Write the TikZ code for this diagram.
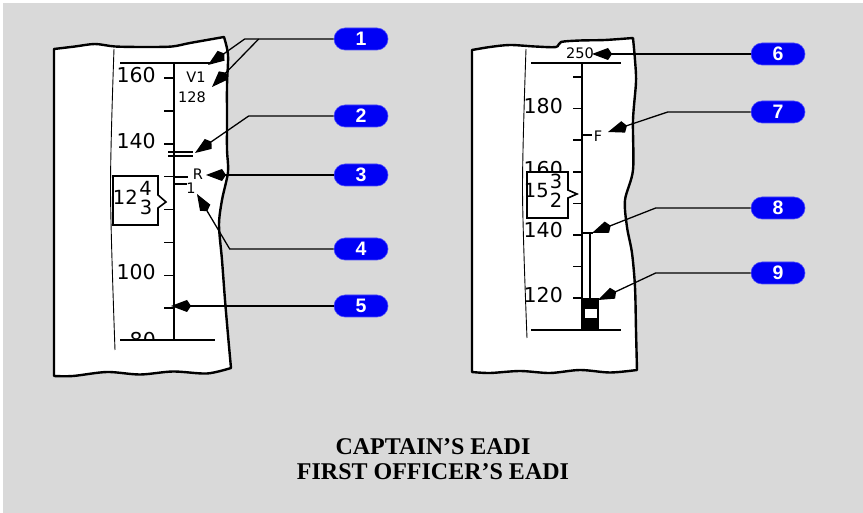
\documentclass[tikz,border=0pt]{standalone}
\usepackage{fontspec}
\setmainfont{Liberation Serif}
\newfontfamily\eadifont{DejaVu Sans}
\newfontfamily\calloutfont{Liberation Sans}
\usetikzlibrary{arrows.meta}
\definecolor{panelgray}{HTML}{D9D9D9}
\definecolor{calloutblue}{HTML}{0000F5}

\tikzset{
  outline/.style={line width=2.4pt, fill=white, line join=round},
  scaleline/.style={line width=1.8pt},
  tickmark/.style={line width=1.6pt},
  guide/.style={line width=0.9pt},
  callout/.style={fill=calloutblue, draw=calloutblue!70!white, line width=0.6pt,
                  rounded corners=11pt, minimum width=54pt, minimum height=22pt,
                  inner sep=0pt, text=white,
                  font=\calloutfont\bfseries\fontsize{19.5}{19.5}\selectfont},
  leader/.style={line width=1.3pt, -{Kite[length=20pt,width=12pt,inset=4pt]}},
  biglabel/.style={font=\eadifont\fontsize{20.5}{20.5}\selectfont, inner sep=0pt, anchor=east},
  smalllabel/.style={font=\eadifont\fontsize{14.5}{14.5}\selectfont, inner sep=0pt},
  boxdigit/.style={font=\eadifont\fontsize{19.5}{19.5}\selectfont, inner sep=0pt}
}

\begin{document}
\begin{tikzpicture}[x=1pt, y=-1pt]
  \useasboundingbox (0,0) rectangle (863,513);
  \fill[panelgray] (3,3) rectangle (863,513);

  % captain's EADI
  \filldraw[outline] (54,376) -- (54,49)
    -- plot[smooth, tension=0.5] coordinates {(54,49) (75,46.5) (95,44) (115,46.5) (145,47) (172,46.5) (190,43) (224,37)}
    -- plot[smooth, tension=0.5] coordinates {(224,37) (228,55) (227,85) (227,120) (227,150) (228,172) (222,200) (219,225) (222,260) (225,300) (228,335) (231,368)}
    -- plot[smooth, tension=0.5] coordinates {(231,368) (207,373.5) (173,371.5) (140,374.5) (107,372) (73,376) (54,376)}
    -- cycle;
  \draw[guide] plot[smooth] coordinates {(114,49) (110.5,190) (115,350)};

  \node[biglabel] (l160) at (156,75) {160};
  \node[biglabel] (l140) at (156,141) {140};
  \node[biglabel] (l100) at (156,272) {100};
  \begin{scope}
    \clip (100,300) rectangle (230,339);
    \node[biglabel] (l80) at (156,340) {80};
  \end{scope}

  \draw[scaleline] (120,63) -- (213,63);
  \draw[scaleline] (120,340) -- (215,340);
  \draw[scaleline] (174,63) -- (174,340);
  \foreach \k in {0,...,7}
    \draw[tickmark] ({164},{78+32.9*\k}) -- ({174},{78+32.9*\k});

  \node[smalllabel] (v1) at (196,77) {V1};
  \node[smalllabel] (v1speed) at (192,97) {128};
  \draw[tickmark] (168,152) -- (193,152);
  \draw[tickmark] (168,156) -- (193,156);
  \draw[tickmark] (174,177) -- (188,177);
  \node[smalllabel] (vr) at (198,174) {R};
  \draw[tickmark] (175,184) -- (187,184);
  \node[smalllabel] (vone) at (191,188) {1};

  \filldraw[fill=white, line width=1.6pt, line join=miter]
    (113,176) -- (158,176) -- (158,195) -- (166,202) -- (158,208) -- (158,225) -- (113,225) -- cycle;
  \node[boxdigit, anchor=east] (cpt12) at (138,197) {12};
  \node[boxdigit] (cpt4) at (145.5,188.5) {4};
  \node[boxdigit] (cpt3) at (146,207.5) {3};

  % first officer's EADI
  \filldraw[outline] (472,372) -- (472,50)
    -- plot[smooth, tension=0.5] coordinates {(472,50) (490,47) (510,45) (535,46.5) (556,47) (561,42) (580,40.5) (605,40) (633,38)}
    -- plot[smooth, tension=0.5] coordinates {(633,38) (635,60) (636,82) (633,120) (633,170) (625,200) (627,227) (632,253) (635,287) (636,330) (637,370)}
    -- plot[smooth, tension=0.5] coordinates {(637,370) (610,372.5) (580,370) (550,373) (520,371) (490,373) (472,372)}
    -- cycle;
  \draw[guide] plot[smooth] coordinates {(526,49) (522.5,190) (527,338)};

  \node[smalllabel] (fmax) at (580,53) {250};
  \node[biglabel] (r180) at (563,106) {180};
  \begin{scope}
    \clip (500,150) rectangle (570,171);
    \node[biglabel] (r160) at (563,169) {160};
  \end{scope}
  \node[biglabel] (r140) at (563,230) {140};
  \node[biglabel] (r120) at (563,295) {120};

  \draw[scaleline] (531,63) -- (621,63);
  \draw[scaleline] (531,330) -- (621,330);
  \draw[scaleline] (582,63) -- (582,330);
  \foreach \k in {0,...,7}
    \draw[tickmark] ({573},{77+31.6*\k}) -- ({582},{77+31.6*\k});

  \draw[tickmark] (582,135) -- (592,135);
  \node[smalllabel] (vf) at (598,136) {F};

  \draw[line width=1.4pt] (582,233) -- (593,233);
  \draw[line width=1.4pt] (590,233) -- (590,298);
  \fill[black] (582,298) rectangle (599,330);
  \fill[white] (585,309) rectangle (597,318);

  \filldraw[fill=white, line width=1.6pt, line join=miter]
    (527,172) -- (568,172) -- (568,190) -- (577,194) -- (568,198) -- (568,218) -- (527,218) -- cycle;
  \node[boxdigit, anchor=east] (fo15) at (549,190.5) {15};
  \node[boxdigit] (fo3) at (556,181) {3};
  \node[boxdigit] (fo2) at (556,200) {2};

  % callouts
  \node[callout] (c1) at (361,39) {1};
  \node[callout] (c2) at (361,116) {2};
  \node[callout] (c3) at (361,175) {3};
  \node[callout] (c4) at (361,249) {4};
  \node[callout] (c5) at (361,306) {5};
  \node[callout] (c6) at (778,54) {6};
  \node[callout] (c7) at (778,112) {7};
  \node[callout] (c8) at (778,208) {8};
  \node[callout] (c9) at (778,273) {9};

  \coordinate (t1a) at (208,65);
  \coordinate (t1b) at (212,87);
  \coordinate (t2) at (195,153);
  \coordinate (t3) at (206,175);
  \coordinate (t4) at (197,194);
  \coordinate (t5) at (171,306);
  \coordinate (t6) at (592,54);
  \coordinate (t7) at (608,132);
  \coordinate (t8) at (592,233);
  \coordinate (t9) at (598,300);

  \draw[leader] (c1.west) -- ++(-89,0) -- (t1a);
  \draw[leader] (c1.west) ++(-75,0) -- (t1b);
  \draw[leader] (c2.west) -- ++(-85,0) -- (t2);
  \draw[leader] (c3.west) -- (t3);
  \draw[leader] (c4.west) -- ++(-104,0) -- (t4);
  \draw[leader] (c5.west) -- (t5);
  \draw[leader] (c6.west) -- (t6);
  \draw[leader] (c7.west) -- ++(-83,0) -- (t7);
  \draw[leader] (c8.west) -- ++(-95,0) -- (t8);
  \draw[leader] (c9.west) -- ++(-95,0) -- (t9);

  \node[font=\bfseries\fontsize{24}{25}\selectfont, align=center] (caption) at (433,459.5)
    {CAPTAIN’S EADI\\FIRST OFFICER’S EADI};
\end{tikzpicture}
\end{document}
